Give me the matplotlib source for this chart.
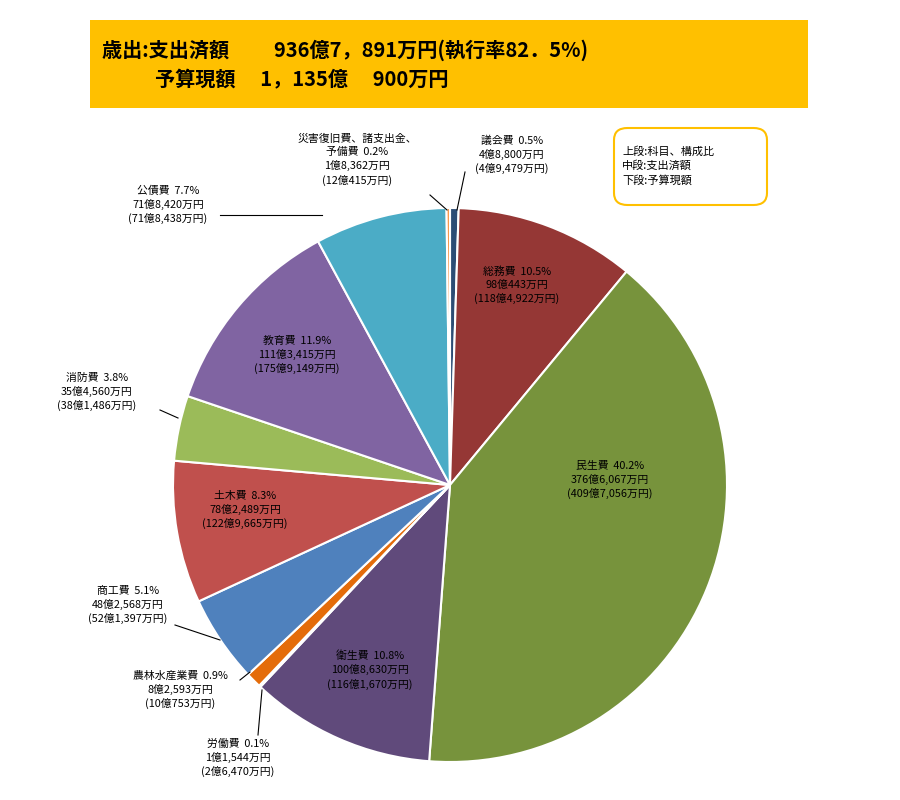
import matplotlib
matplotlib.use("Agg")
import matplotlib.pyplot as plt
from matplotlib.patches import FancyBboxPatch, Rectangle
import numpy as np

plt.rcParams["font.family"] = "Noto Sans CJK JP"

categories = ["議会費", "総務費", "民生費", "衛生費", "労働費", "農林水産業費",
              "商工費", "土木費", "消防費", "教育費", "公債費", "災害復旧費、諸支出金、\n予備費"]
shares = [0.5, 10.5, 40.2, 10.8, 0.1, 0.9, 5.1, 8.3, 3.8, 11.9, 7.7, 0.2]
spent = ["4億8,800万円", "98億443万円", "376億6,067万円", "100億8,630万円", "1億1,544万円",
         "8億2,593万円", "48億2,568万円", "78億2,489万円", "35億4,560万円", "111億3,415万円",
         "71億8,420万円", "1億8,362万円"]
budget = ["4億9,479万円", "118億4,922万円", "409億7,056万円", "116億1,670万円", "2億6,470万円",
          "10億753万円", "52億1,397万円", "122億9,665万円", "38億1,486万円", "175億9,149万円",
          "71億8,438万円", "12億415万円"]
colors = ["#2c4d75", "#953735", "#77933c", "#604a7b", "#dcdcdc", "#e46c0a",
          "#4f81bd", "#c0504d", "#9bbb59", "#8064a2", "#4bacc6", "#f79646"]

W, H = 900, 800
fig = plt.figure(figsize=(9, 8), dpi=100)

def P(x, y):
    return x / W, 1 - y / H

# header
fig.patches.append(Rectangle(P(90, 108), 718 / W, 88 / H, transform=fig.transFigure,
                             facecolor="#ffc000", edgecolor="none"))
fig.text(*P(102, 50), "歳出:支出済額　　 936億7，891万円(執行率82．5%)", fontsize=14.5,
         fontweight="bold", va="center", ha="left")
fig.text(*P(155, 80), "予算現額　 1，135億　 900万円", fontsize=14.5,
         fontweight="bold", va="center", ha="left")

# legend box
fig.patches.append(FancyBboxPatch(P(614, 205), 153 / W, 77 / H, transform=fig.transFigure,
                                  boxstyle="round,pad=0,rounding_size=0.015",
                                  facecolor="white", edgecolor="#ffc000", linewidth=1.5))
fig.text(*P(622, 166), "上段:科目、構成比\n中段:支出済額\n下段:予算現額", fontsize=8,
         va="center", ha="left", linespacing=1.4)

cx, cy, r = 450, 485, 277
ax = fig.add_axes([(cx - r) / W, 1 - (cy + r) / H, 2 * r / W, 2 * r / H])
ax.pie(shares, colors=colors, startangle=90, counterclock=False,
       wedgeprops=dict(edgecolor="white", linewidth=1.5))
ax.set_xlim(-1, 1); ax.set_ylim(-1, 1); ax.set_aspect("auto"); ax.axis("off")

# label positions (pixel) and optional leader endpoints
pos = [(512, 155, None), (517, 285, None), (610, 480, None), (370, 670, None),
       (238, 758, (262, 690)), (180, 690, (250, 672)), (128, 605, (220, 640)),
       (245, 510, None), (97, 392, (178, 418)), (297, 355, None),
       (168, 205, (322, 215)), (357, 160, (447, 210))]
for i, (x, y, lead) in enumerate(pos):
    s = f"{categories[i]}  {shares[i]}%\n{spent[i]}\n({budget[i]})"
    fig.text(*P(x, y), s, fontsize=7.8, ha="center", va="center",
             linespacing=1.35, color="black")
    if lead is not None:
        lx, ly = lead
        if i == 10:
            sx, sy = 220, 215
        elif i == 11:
            sx, sy = 430, 195
        elif i == 8:
            sx, sy = 160, 410
        elif i == 6:
            sx, sy = 175, 625
        elif i == 5:
            sx, sy = 240, 680
        else:
            sx, sy = 258, 735
        fig.add_artist(plt.Line2D([sx / W, lx / W], [1 - sy / H, 1 - ly / H],
                                  transform=fig.transFigure, color="black", lw=0.8))
# 議会費 leader
fig.add_artist(plt.Line2D([465 / W, 457 / W], [1 - 172 / H, 1 - 210 / H],
                          transform=fig.transFigure, color="black", lw=0.8))

fig.savefig("out.png", dpi=100, facecolor="white")
